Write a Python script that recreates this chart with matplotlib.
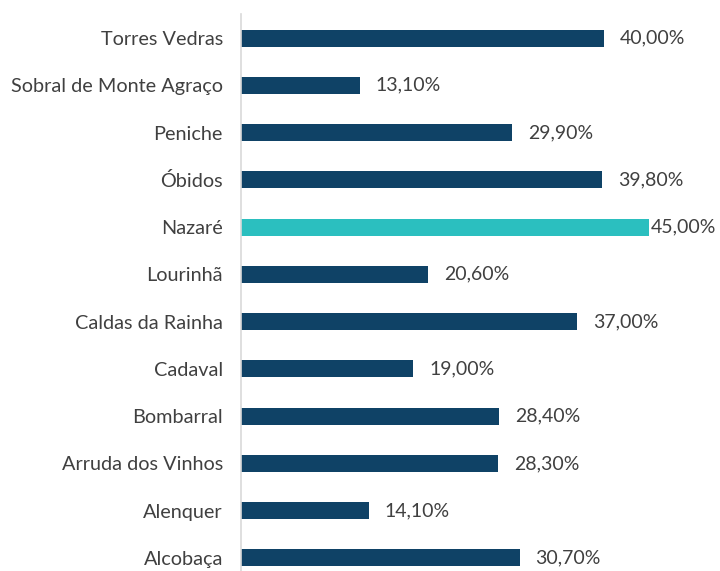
import matplotlib.pyplot as plt

municipios = ["Torres Vedras", "Sobral de Monte Agraço", "Peniche", "Óbidos",
              "Nazaré", "Lourinhã", "Caldas da Rainha", "Cadaval", "Bombarral",
              "Arruda dos Vinhos", "Alenquer", "Alcobaça"]
valores = [40.0, 13.1, 29.9, 39.8, 45.0, 20.6, 37.0, 19.0, 28.4, 28.3, 14.1, 30.7]
destaque = "Nazaré"

navy = "#0f4266"
teal = "#2bbfbf"
texto = "#404040"

plt.rcParams['font.family'] = ['Lato', 'DejaVu Sans']

fig = plt.figure(figsize=(7.2, 5.71), dpi=100)
W, H = 720, 571
ax = fig.add_axes([241 / W, 0, (W - 241) / W, (H - 14) / H])

xmax = 52.8
ax.set_xlim(0, xmax)
pos = list(range(len(municipios)))
ax.set_ylim(11.276, -0.508)

cores = [teal if m == destaque else navy for m in municipios]
ax.barh(pos, valores, height=0.36, color=cores)

# labels sit 16px right of the bar, pushed back in when they would run off the edge
px_per_unit = (W - 241) / xmax
for y, v in zip(pos, valores):
    end_px = v * px_per_unit
    off = min(16, (716 - 241 - 65) - end_px)
    ax.annotate(f"{v:.2f}%".replace(".", ","), xy=(v, y),
                xytext=(off * 72 / 100, 0), textcoords="offset points",
                ha="left", va="center", fontsize=14, color=texto)

ax.set_yticks(pos)
ax.set_yticklabels(municipios, fontsize=14.3, color=texto)
ax.tick_params(axis="y", length=0, pad=13)
ax.set_xticks([])
for s in ["top", "right", "bottom"]:
    ax.spines[s].set_visible(False)
ax.spines["left"].set_color("#d9d9d9")
ax.spines["left"].set_linewidth(1.2)

fig.savefig("out.png", dpi=100)
